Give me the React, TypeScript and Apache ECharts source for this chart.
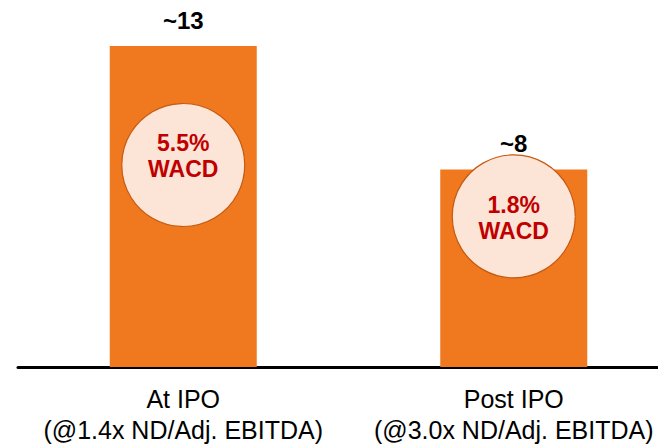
import React, { useEffect, useRef } from "react";
import * as echarts from "echarts";

const categories = ["At IPO\n(@1.4x ND/Adj. EBITDA)", "Post IPO\n(@3.0x ND/Adj. EBITDA)"];
const debtValues = [13, 8];
const debtLabels = ["~13", "~8"];
const wacdRates = ["5.5%", "1.8%"];
// vertical anchor (axis units) of each WACD bubble
const bubbleAnchors = [8.18, 6.1];

const FONT = "'Liberation Sans', Arial, sans-serif";

export default function App() {
  const ref = useRef<HTMLDivElement>(null);
  useEffect(() => {
    if (!ref.current) return;
    const chart = echarts.init(ref.current, undefined, { renderer: "svg" });
    const bubbleOffsets = [[0, -9], [0, 2]];
    chart.setOption({
      animation: false,
      grid: {
        left: 18,
        top: 46,
        right: -21,
        height: 321,
        containLabel: false,
        outerBoundsMode: "none",
      },
      xAxis: {
        type: "category",
        data: categories,
        axisLine: { show: true, lineStyle: { color: "#000", width: 3 } },
        axisTick: { show: false },
        axisLabel: {
          color: "#000",
          fontFamily: FONT,
          fontSize: 25,
          lineHeight: 31,
          margin: 16,
          interval: 0,
          hideOverlap: false,
        },
      },
      yAxis: {
        type: "value",
        min: 0,
        max: 13,
        show: false,
        splitLine: { show: false },
      },
      series: [
        {
          type: "bar",
          data: debtValues,
          barWidth: 147,
          itemStyle: { color: "#F0781E" },
          label: {
            show: true,
            position: "top",
            distance: 14,
            formatter: (p: any) => debtLabels[p.dataIndex],
            color: "#000",
            fontFamily: FONT,
            fontWeight: "bold",
            fontSize: 24,
          },
          z: 2,
        },
        {
          type: "scatter",
          data: bubbleAnchors.map((v, i) => ({
            value: [i, v],
            label: { offset: bubbleOffsets[i] },
          })),
          symbol: "circle",
          symbolSize: 123,
          itemStyle: { color: "#FCE4D6", borderColor: "#C55A11", borderWidth: 1.2, opacity: 1 },
          label: {
            show: true,
            position: "inside",
            formatter: (p: any) => wacdRates[p.dataIndex] + "\nWACD",
            color: "#C00000",
            fontFamily: FONT,
            fontWeight: "bold",
            fontSize: 23,
            lineHeight: 26,
          },
          emphasis: { disabled: true },
          z: 3,
        },
      ],
    });
    return () => chart.dispose();
  }, []);
  return (
    <div
      ref={ref}
      style={{ position: "fixed", left: 0, top: 0, width: 658, height: 444, background: "#fff" }}
    />
  );
}
